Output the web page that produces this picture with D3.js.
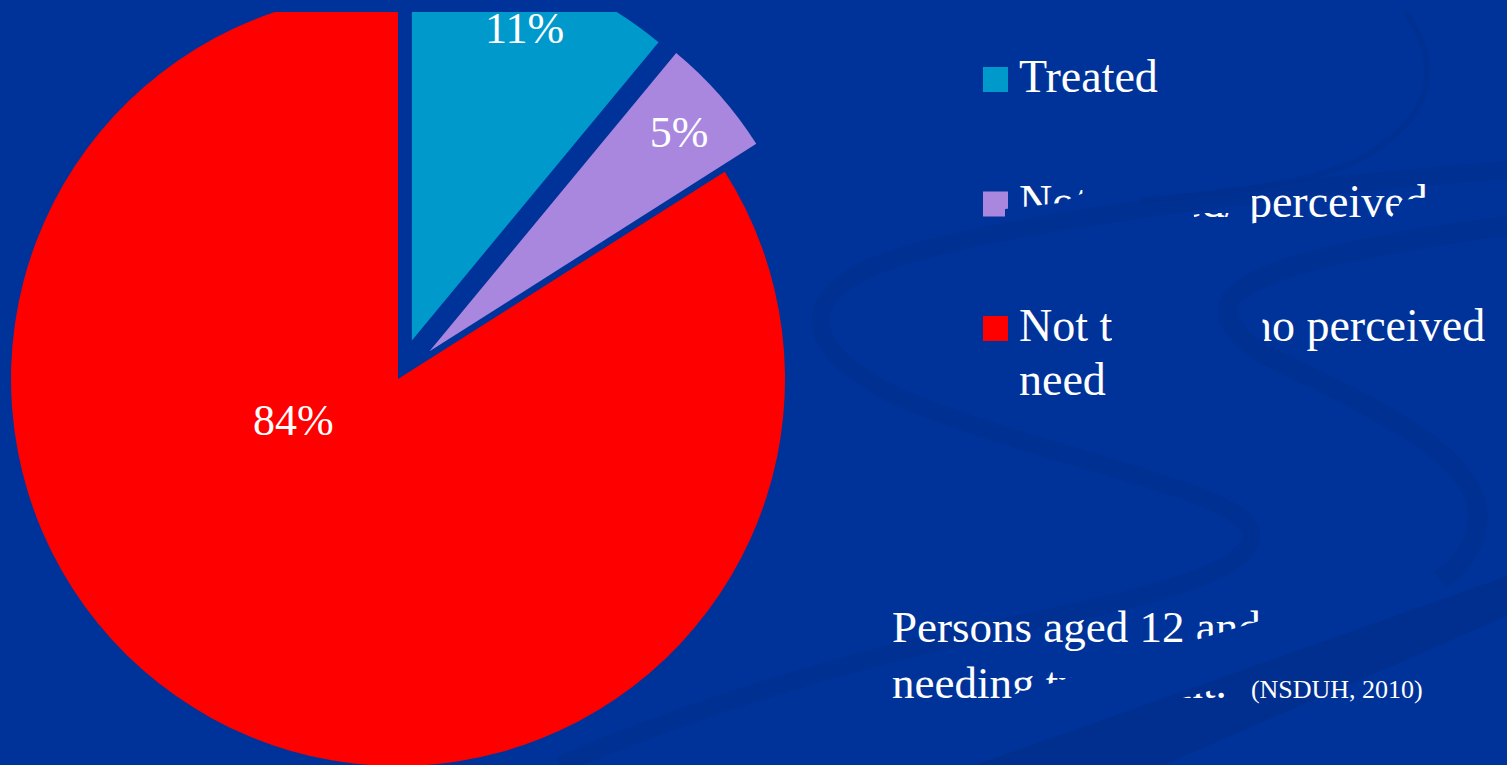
<!DOCTYPE html>
<html>
<head>
<meta charset="utf-8">
<script src="https://cdn.jsdelivr.net/npm/d3@7"></script>
<style>
  body { margin: 0; background: #003399; overflow: hidden; }
  text { font-family: "Liberation Serif", "Times New Roman", serif; fill: #fff; }
</style>
</head>
<body>
<div id="container"></div>
<script>
// data
const categories = ["Treated", "Not treated/ perceived need", "Not treated/ no perceived need"];
const values = [11, 5, 84];
const labels = ["11%", "5%", "84%"];
const legendLines = [["Treated"], ["Not treated/ perceived", "need"], ["Not treated/ no perceived", "need"]];
const noteLines = ["Persons aged 12 and older", "needing treatment."];
const noteSource = "(NSDUH, 2010)";
const colors = ["#0099CC", "#A987DF", "#FF0000"];

const w = 1507;
const h = 765;
const bg = "#003399";
const dark = "#002F8E";

const svg = d3.select("#container")
  .append("svg")
  .attr("width", w)
  .attr("height", h);

const defs = svg.append("defs");
svg.append("rect").attr("width", w).attr("height", h).attr("fill", bg);

// slide background swooshes
const swooshes = [
  { d: "M1507,170 C1250,190 960,228 870,268 C795,302 805,352 900,398 C1050,460 1238,490 1250,530 C1260,566 1180,592 1000,628 C850,660 700,705 560,765", sw: 18 },
  { d: "M1405,12 C1440,60 1442,118 1352,163 C1300,185 1210,195 1140,200", sw: 6 },
  { d: "M1507,226 C1400,240 1262,262 1232,298 C1218,322 1242,346 1292,368 C1400,420 1492,468 1476,530 C1470,558 1452,572 1440,580", sw: 20 },
];
const band = "M1507,576 L1507,616 L1164,765 L975,765 Z";

function drawDeco(g) {
  g.append("path").attr("d", band).attr("fill", dark).attr("opacity", 0.75);
  swooshes.forEach((s) => {
    g.append("path")
      .attr("d", s.d)
      .attr("fill", "none")
      .attr("stroke", dark)
      .attr("stroke-width", s.sw)
      .attr("opacity", 0.6);
  });
}
drawDeco(svg.append("g"));

// legend
const color = d3.scaleOrdinal().domain(categories).range(colors);
const yLegend = d3.scaleLinear().domain([0, 2]).range([92, 341]);

const legend = svg.append("g");
categories.forEach((c, i) => {
  const g = legend.append("g").attr("transform", `translate(983,${yLegend(i)})`);
  g.append("rect")
    .attr("y", -25)
    .attr("width", 25)
    .attr("height", 25)
    .attr("fill", color(c));
  const t = g.append("text").attr("font-size", 46);
  legendLines[i].forEach((line, j) => {
    t.append("tspan").attr("x", 36).attr("dy", j == 0 ? 0 : 54).text(line);
  });
});

// note under legend
const note = svg.append("text").attr("x", 892).attr("y", 642).attr("font-size", 45);
note.append("tspan").attr("x", 892).text(noteLines[0]);
note.append("tspan").attr("x", 892).attr("dy", 56).text(noteLines[1]);
note.append("tspan").attr("font-size", 26).attr("dx", 24).text(noteSource);

// parts of the slide background lie over the text
const covers = [
  "M1005,209 L1060,203 L1100,186 L1190,184 L1195,224 L1250,224 L1260,222 L1390,220 L1402,200 L1440,196 L1507,190 L1507,238 C1400,252 1290,280 1266,305 C1259,322 1263,345 1272,364 L1112,360 L1112,302 L1005,302 Z",
  "M1180,170 L1252,170 L1252,213 L1180,213 Z",
  "M1012,695 L1507,547 L1507,612 L1012,743 Z",
];
const cover = svg.append("g");
covers.forEach((d) => cover.append("path").attr("d", d).attr("fill", bg));

const coverClip = defs.append("clipPath").attr("id", "covers");
covers.forEach((d) => coverClip.append("path").attr("d", d));
drawDeco(svg.append("g").attr("clip-path", "url(#covers)"));

// pie
const cx = 398, cy = 379, r = 387;
const explode = [41, 42, 0];
const labelPos = [
  { k: 0.86, angle: null },
  { k: 0.86, angle: null },
  { k: 0.29, angle: 249 * Math.PI / 180 },
];

defs.append("clipPath").attr("id", "plot")
  .append("rect").attr("x", 0).attr("y", 12).attr("width", 900).attr("height", h);

const pie = d3.pie().sort(null).value((d) => d)(values);
const arc = d3.arc().innerRadius(0).outerRadius(r);

const slices = svg.append("g")
  .attr("clip-path", "url(#plot)")
  .append("g")
  .attr("transform", `translate(${cx},${cy})`);

slices.selectAll("g")
  .data(pie)
  .join("g")
  .attr("transform", (d, i) => {
    const a = (d.startAngle + d.endAngle) / 2;
    const p = d3.pointRadial(a, explode[i]);
    return `translate(${p[0]},${p[1]})`;
  })
  .each(function (d, i) {
    const g = d3.select(this);
    g.append("path").attr("d", arc(d)).attr("fill", colors[i]);
    const a = labelPos[i].angle ?? (d.startAngle + d.endAngle) / 2;
    const p = d3.pointRadial(a, r * labelPos[i].k);
    g.append("text")
      .attr("x", p[0])
      .attr("y", p[1])
      .attr("dy", "0.35em")
      .attr("text-anchor", "middle")
      .attr("font-size", 44)
      .text(labels[i]);
  });
</script>
</body>
</html>
